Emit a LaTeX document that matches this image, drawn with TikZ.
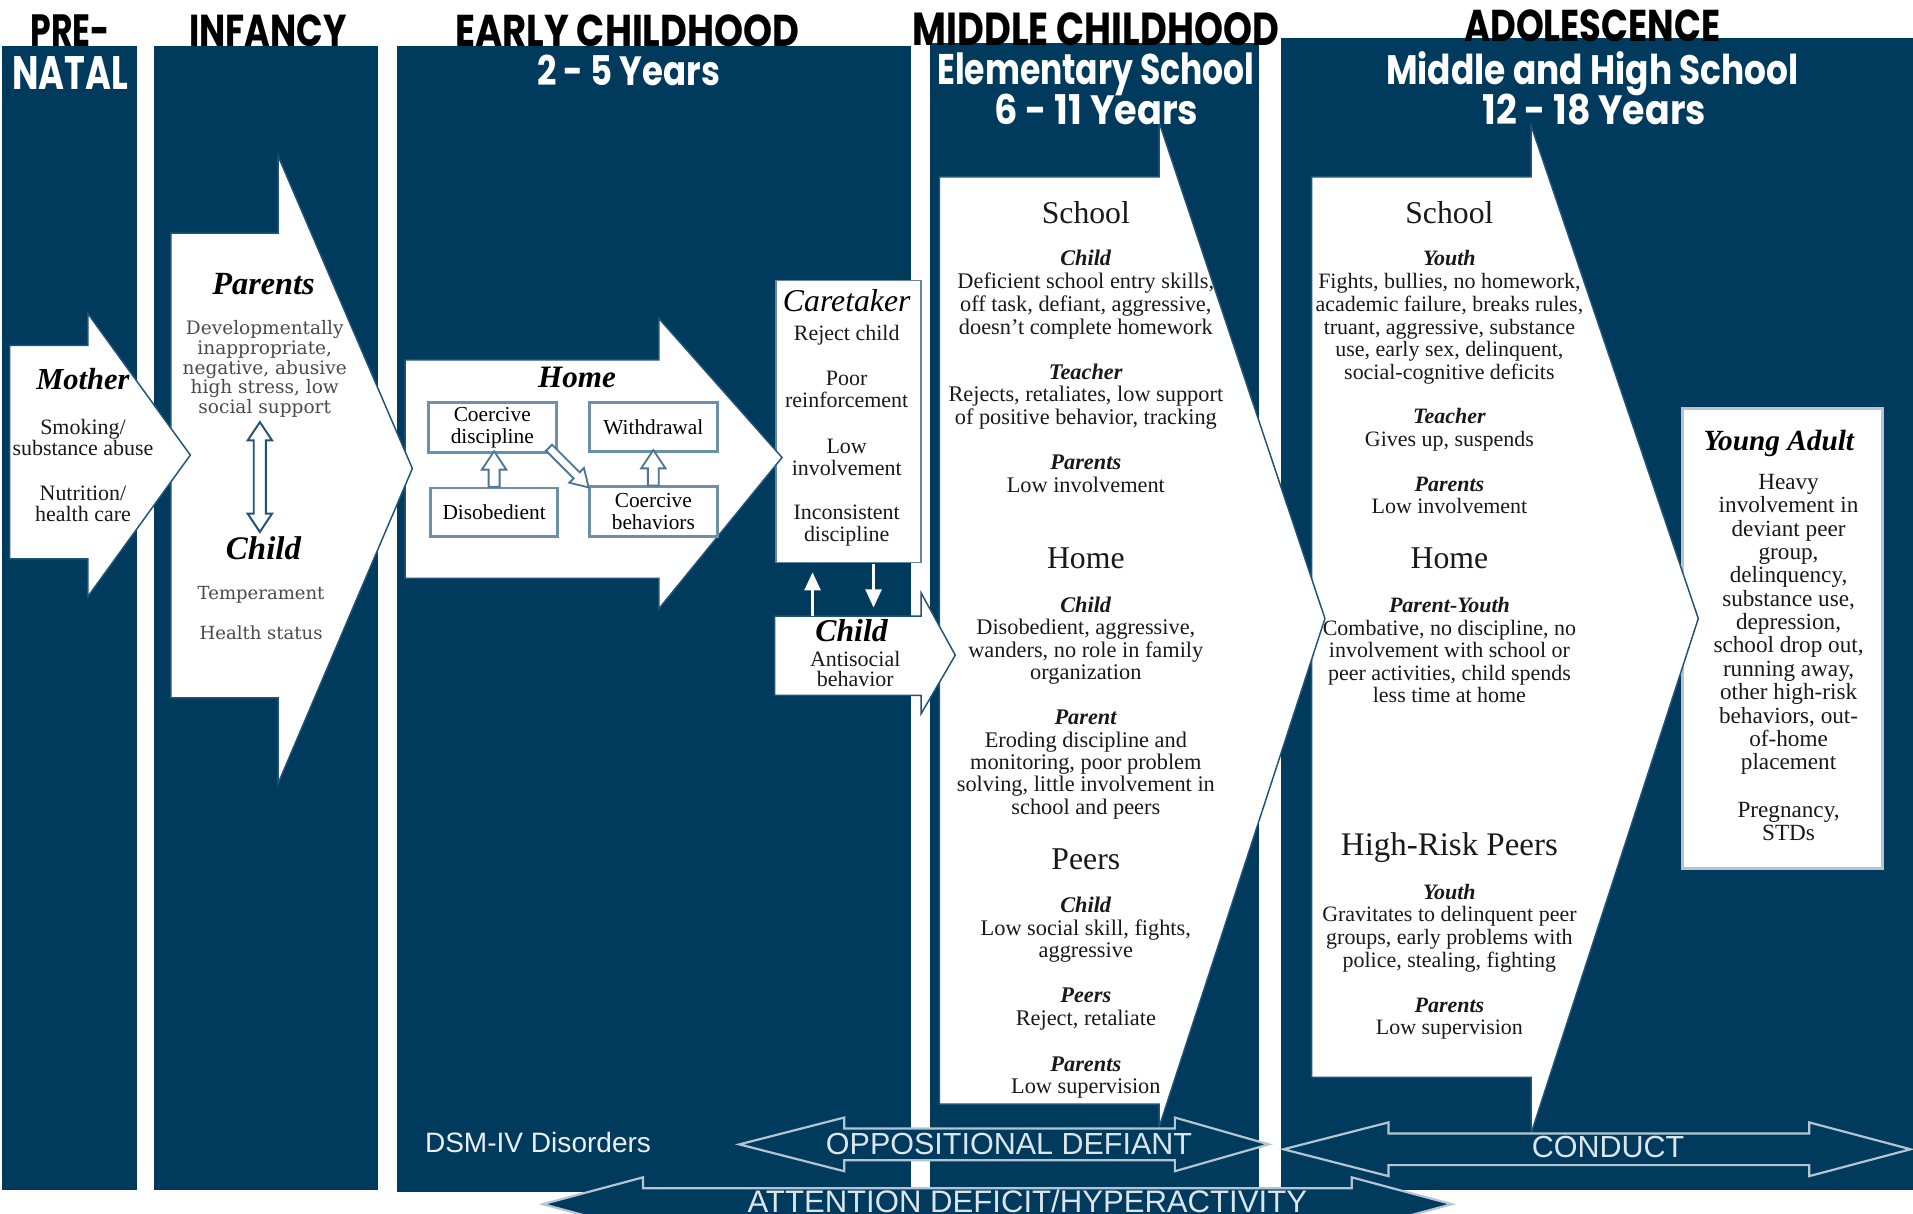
\documentclass[tikz,border=0pt]{standalone}
\usepackage{graphicx}
\usepackage{fontspec}
\setmainfont{Liberation Serif}
\newfontfamily\hdrfont{Poppins}
\newfontfamily\sansf{Liberation Sans}
\newfontfamily\wideserif{DejaVu Serif}
\usetikzlibrary{arrows.meta,calc}
\definecolor{navy}{HTML}{003A5C}
\definecolor{edge}{HTML}{1F5478}
\definecolor{boxedge}{HTML}{6D90AA}
\definecolor{lightedge}{HTML}{B4C5D2}
\definecolor{dsm}{HTML}{DCE5EC}
\definecolor{grayt}{HTML}{4A4A4A}
\newcommand\bi[1]{\textbf{\textit{#1}}}
\newcommand\hdr[3]{\resizebox{#1pt}{#2pt}{\hdrfont\bfseries #3}}
\newcommand\tblock[6]{\foreach \tline [count=\ti] in {#6} {\node[#5] (#1-\ti) at (#2,{#3+(\ti-1)*#4}) {\tline};}}
\newcommand\hollowarrow[6]{%
\begin{scope}[shift={#1},rotate=#2]
\draw[hollowarr] (0,-#4) -- ({#3-#6},-#4) -- ({#3-#6},-#5) -- (#3,0) -- ({#3-#6},#5) -- ({#3-#6},#4) -- (0,#4) -- cycle;
\end{scope}}
\begin{document}
\begin{tikzpicture}[x=1pt,y=-1pt,
  panel/.style={fill=navy},
  bigarr/.style={fill=white,draw=edge,line width=1.2},
  hollowarr/.style={fill=white,draw=edge!80,line width=1.5},
  hbox/.style={draw=boxedge,line width=2.2,fill=white,inner sep=0,align=center,font=\fontsize{17.5}{18}\selectfont},
  cbox/.style={draw=edge!70,line width=1.3,fill=white,inner sep=0},
  yabox/.style={draw=lightedge,line width=2,fill=white,inner sep=0},
  disarr/.style={draw=lightedge,line width=1.8,fill=navy},
  wline/.style={white,line width=2.7pt,-{Triangle[width=13pt,length=15pt]}},
  body/.style={anchor=base,inner sep=0,text=black!90,font=\fontsize{#1}{#1}\selectfont},
  body/.default=17,
  ttl/.style={anchor=base,inner sep=0,font=\fontsize{#1}{#1}\selectfont\bfseries\itshape},
  ttl/.default=26,
  ittl/.style={anchor=base,inner sep=0,font=\fontsize{#1}{#1}\selectfont\itshape},
  ittl/.default=26,
  head/.style={anchor=base,inner sep=0,text=black!90,font=\fontsize{#1}{#1}\selectfont},
  head/.default=26,
  inf/.style={anchor=base,inner sep=0,text=grayt,font=\wideserif\fontsize{#1}{#1}\selectfont},
  inf/.default=15.2,
  dis/.style={anchor=base,inner sep=0,text=dsm,font=\sansf\fontsize{#1}{#1}\selectfont},
  dis/.default=24,
  hd/.style={anchor=base west,inner sep=0}]
\useasboundingbox (0,0) rectangle (1568,995);
\clip (0,0) rectangle (1568,995);
\fill[white] (0,0) rectangle (1568,995);
% panels
\fill[panel] (2,38) rectangle (112,975);
\fill[panel] (126,38) rectangle (310,975);
\fill[panel] (325,38) rectangle (747,977);
\fill[panel] (762,35) rectangle (1032,975);
\fill[panel] (1050,31) rectangle (1568,975);
% ADHD arrow (filled)
\draw[disarr] (445,987) -- (527,965) -- (527,974) -- (1108,974) -- (1108,965) -- (1190,987) -- (1108,1009) -- (1108,1000) -- (527,1000) -- (527,1009) -- cycle;
% white shapes, later stages first
\node[yabox,minimum width=164,minimum height=377] (ya) at (1461,523.5) {};
\draw[bigarr] (1075,145) -- (1255,145) -- (1255,103) -- (1392,507) -- (1255,929) -- (1255,883) -- (1075,883) -- cycle;
\draw[bigarr] (770,145) -- (950,145) -- (950,100) -- (1086,507) -- (950,924) -- (950,905) -- (770,905) -- cycle;
\draw[bigarr] (635,505) -- (755,505) -- (755,486) -- (783,537) -- (755,585) -- (755,570) -- (635,570) -- cycle;
\node[cbox,minimum width=119,minimum height=231] (care) at (695.5,345.5) {};
\draw[bigarr] (332,295) -- (540,295) -- (540,261) -- (641,375) -- (540,499) -- (540,474) -- (332,474) -- cycle;
\draw[bigarr] (140,191) -- (228,191) -- (228,128) -- (338,384) -- (228,642) -- (228,572) -- (140,572) -- cycle;
\draw[bigarr] (8,283) -- (72,283) -- (72,257) -- (156,373) -- (72,489) -- (72,458) -- (8,458) -- cycle;
% disorder arrows
\draw[disarr] (606,938) -- (692,916) -- (692,925) -- (963,925) -- (963,916) -- (1040,938) -- (963,960) -- (963,951) -- (692,951) -- (692,960) -- cycle;
\draw[disarr] (1052,942) -- (1138,920) -- (1138,929) -- (1483,929) -- (1483,920) -- (1566,942) -- (1483,964) -- (1483,955) -- (1138,955) -- (1138,964) -- cycle;
% headers
\node[hd] (h1) at (25,38) {\hdr{65}{26}{PRE-}};
\node[hd,text=white] (h1b) at (10,73) {\hdr{95}{27}{NATAL}};
\node[hd] (h2) at (155,38) {\hdr{129}{26}{INFANCY}};
\node[hd] (h3) at (373,38) {\hdr{282}{26}{EARLY CHILDHOOD}};
\node[hd,text=white] (h3b) at (440,70) {\hdr{150}{25}{2 - 5 Years}};
\node[hd] (h4) at (748,37) {\hdr{300}{27}{MIDDLE CHILDHOOD}};
\node[hd,text=white] (h4b) at (768,69) {\hdr{260}{26}{Elementary School}};
\node[hd,text=white] (h4c) at (815,102) {\hdr{167}{25}{6 - 11 Years}};
\node[hd] (h5) at (1200,34) {\hdr{210}{26}{ADOLESCENCE}};
\node[hd,text=white] (h5b) at (1136,69) {\hdr{338}{27}{Middle and High School}};
\node[hd,text=white] (h5c) at (1215,102) {\hdr{183}{25}{12 - 18 Years}};
% prenatal
\node[ttl=25] (motT) at (68,319) {Mother};
\tblock{motB}{68}{356}{17.5}{body=18}{{Smoking/},{substance abuse}}
\tblock{motC}{68}{410}{17.5}{body=18}{{Nutrition/},{health care}}
% infancy
\node[ttl=26.5] (parT) at (216,241) {Parents};
\tblock{parB}{217}{274}{16.3}{inf}{{Developmentally},{inappropriate,},{negative, abusive},{high stress, low},{social support}}
\draw[hollowarr,draw=edge,line width=1.6] (208,361) -- (203,361) -- (213,346) -- (223,361) -- (218,361) -- (218,421) -- (223,421) -- (213,436) -- (203,421) -- (208,421) -- cycle;
\node[ttl=27] (chT) at (216,459) {Child};
\node[inf=14.8] (tmp) at (214,491) {Temperament};
\node[inf=14.8] (hst) at (214,524) {Health status};
% early childhood
\node[ttl=25.5] (homeT) at (473,318) {Home};
\node[hbox,minimum width=105,minimum height=41] (cdisc) at (403.5,350.5) {Coercive\\discipline};
\node[hbox,minimum width=105,minimum height=40] (wdr) at (535.5,350) {Withdrawal};
\node[hbox,minimum width=104,minimum height=40] (disob) at (405,420) {Disobedient};
\node[hbox,minimum width=105,minimum height=41] (cbeh) at (535.5,419.5) {Coercive\\behaviors};
\hollowarrow{(disob.north)}{90}{29}{4.5}{10}{15}
\hollowarrow{(cbeh.north)}{90}{29}{4.5}{10}{15}
\coordinate (dgA) at (450,367);
\hollowarrow{(dgA)}{-45}{46}{3.5}{8.5}{14}
\node[ittl=26] (careT) at (694,255) {Caretaker};
\tblock{careA}{694}{279}{18}{body=18}{{Reject child}}
\tblock{careB}{694}{316}{18}{body=18}{{Poor},{reinforcement}}
\tblock{careC}{694}{372}{18}{body=18}{{Low},{involvement}}
\tblock{careD}{694}{426}{18}{body=18}{{Inconsistent},{discipline}}
\coordinate (upA) at (666,505); \coordinate (upB) at (666,469);
\coordinate (dnA) at (716,462); \coordinate (dnB) at (716,498);
\draw[wline] (upA) -- (upB);
\draw[wline] (dnA) -- (dnB);
\node[ttl=26] (chT2) at (698,526) {Child};
\tblock{chB}{701}{546}{17}{body=18}{{Antisocial},{behavior}}
% middle childhood
\node[head] (mS) at (890,183) {School};
\tblock{mA}{890}{218}{18.6}{body=18.3}{{\bi{Child}},{Deficient school entry skills,},{off task, defiant, aggressive,},{doesn't complete homework}}
\tblock{mB}{890}{311}{18.3}{body=18.3}{{\bi{Teacher}},{Rejects, retaliates, low support},{of positive behavior, tracking}}
\tblock{mC}{890}{385}{18.3}{body=18.3}{{\bi{Parents}},{Low involvement}}
\node[head] (mH) at (890,466) {Home};
\tblock{mD}{890}{502}{18.4}{body=18.3}{{\bi{Child}},{Disobedient, aggressive,},{wanders, no role in family},{organization}}
\tblock{mE}{890}{594}{18.3}{body=18.3}{{\bi{Parent}},{Eroding discipline and},{monitoring, poor problem},{solving, little involvement in},{school and peers}}
\node[head] (mP) at (890,713) {Peers};
\tblock{mF}{890}{748}{18.5}{body=18.3}{{\bi{Child}},{Low social skill, fights,},{aggressive}}
\tblock{mG}{890}{822}{18.5}{body=18.3}{{\bi{Peers}},{Reject, retaliate}}
\tblock{mI}{890}{878}{18.5}{body=18.3}{{\bi{Parents}},{Low supervision}}
% adolescence
\node[head] (aS) at (1188,183) {School};
\tblock{aA}{1188}{218}{18.6}{body=18}{{\bi{Youth}},{Fights, bullies, no homework,},{academic failure, breaks rules,},{truant, aggressive, substance},{use, early sex, delinquent,},{social-cognitive deficits}}
\tblock{aB}{1188}{347}{18.7}{body=18}{{\bi{Teacher}},{Gives up, suspends}}
\tblock{aC}{1188}{403}{18.3}{body=18}{{\bi{Parents}},{Low involvement}}
\node[head] (aH) at (1188,466) {Home};
\tblock{aD}{1188}{502}{18.5}{body=18}{{\bi{Parent-Youth}},{Combative, no discipline, no},{involvement with school or},{peer activities, child spends},{less time at home}}
\node[head=27] (aP) at (1188,701) {High-Risk Peers};
\tblock{aE}{1188}{737}{18.7}{body=18}{{\bi{Youth}},{Gravitates to delinquent peer},{groups, early problems with},{police, stealing, fighting}}
\tblock{aF}{1188}{830}{18.3}{body=18}{{\bi{Parents}},{Low supervision}}
% young adult
\node[ttl=24] (yaT) at (1458,369) {Young Adult};
\tblock{yaB}{1466}{401}{19.17}{body=19}{{Heavy},{involvement in},{deviant peer},{group,},{delinquency,},{substance use,},{depression,},{school drop out,},{running away,},{other high-risk},{behaviors, out-},{of-home},{placement}}
\tblock{yaC}{1466}{670}{19}{body=19}{{Pregnancy,},{STDs}}
% disorders
\node[dis=23,text=white!92!navy] (dsmT) at (441,945) {DSM-IV Disorders};
\node[dis=25] (odT) at (827,946) {OPPOSITIONAL DEFIANT};
\node[dis=25] (cdT) at (1318,949) {CONDUCT};
\node[dis=25.5] (adT) at (842,994) {ATTENTION DEFICIT/HYPERACTIVITY};
\end{tikzpicture}
\end{document}
